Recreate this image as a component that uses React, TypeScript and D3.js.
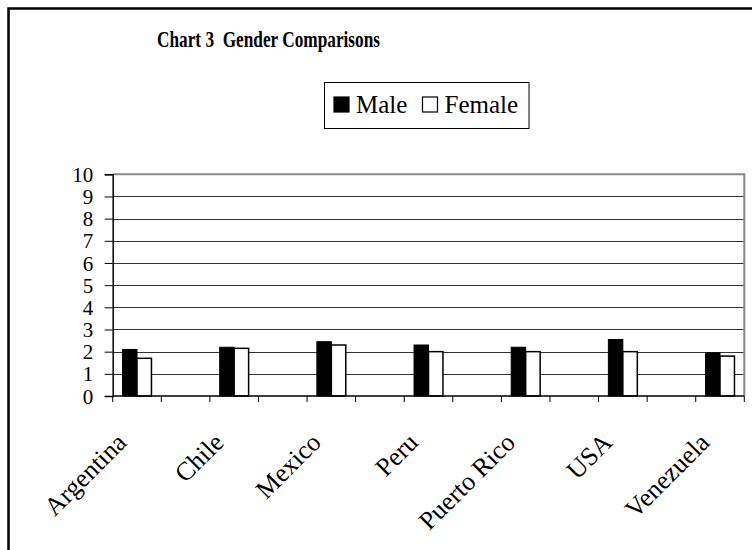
import React, { useEffect, useRef } from 'react';
import * as d3 from 'd3';

// values (mean scores, 0-10 scale)
const countries = ['Argentina', 'Chile', 'Mexico', 'Peru', 'Puerto Rico', 'USA', 'Venezuela'];
const maleValues = [2.1, 2.2, 2.45, 2.3, 2.2, 2.55, 1.95];
const femaleValues = [1.7, 2.15, 2.3, 2.0, 2.0, 2.0, 1.8];
const seriesNames = ['Male', 'Female'];
const yTicks = [0, 1, 2, 3, 4, 5, 6, 7, 8, 9, 10];

const W = 752;
const H = 550;
const plot = { left: 112.7, right: 744.3, top: 174.3, bottom: 396 };
const FONT = "'Liberation Serif', 'Times New Roman', serif";

const App = () => {
  const svgRef = useRef<SVGSVGElement>(null);

  useEffect(() => {
    const svg = d3.select(svgRef.current);
    svg.selectAll('*').remove();

    // the original has an empty category between every country
    const slots: string[] = [];
    countries.forEach((c, i) => {
      slots.push(c);
      if (i < countries.length - 1) slots.push(`gap${i}`);
    });

    const x = d3.scaleBand().domain(slots).range([plot.left, plot.right]).padding(0);
    const xSub = d3
      .scaleBand()
      .domain(seriesNames)
      .range([0, x.bandwidth()])
      .paddingInner(0)
      .paddingOuter(0.68);
    const y = d3.scaleLinear().domain([0, 10]).range([plot.bottom, plot.top]);

    // outer frame (only top and left edges show in the picture)
    svg.append('path')
      .attr('d', `M8.5,${H} V8.5 H${W}`)
      .attr('fill', 'none')
      .attr('stroke', '#000')
      .attr('stroke-width', 2.5);

    // title
    svg.append('text')
      .attr('x', 157)
      .attr('y', 47)
      .attr('textLength', 223)
      .attr('lengthAdjust', 'spacingAndGlyphs')
      .attr('font-family', FONT)
      .attr('font-weight', 'bold')
      .attr('font-size', 24)
      .style('white-space', 'pre')
      .text('Chart 3  Gender Comparisons');

    // legend
    const lg = svg.append('g');
    lg.append('rect')
      .attr('x', 324.5).attr('y', 82.5).attr('width', 204.5).attr('height', 46)
      .attr('fill', '#fff').attr('stroke', '#000').attr('stroke-width', 1);
    const legendItems = [
      { name: seriesNames[0], sx: 334, tx: 356, fill: '#000' },
      { name: seriesNames[1], sx: 422.5, tx: 444.5, fill: '#fff' },
    ];
    legendItems.forEach((d) => {
      lg.append('rect')
        .attr('x', d.sx).attr('y', 97).attr('width', 15).attr('height', 15)
        .attr('fill', d.fill).attr('stroke', '#000').attr('stroke-width', 1.2);
      lg.append('text')
        .attr('x', d.tx).attr('y', 113)
        .attr('font-family', FONT).attr('font-size', 25)
        .text(d.name);
    });

    // gridlines
    svg.append('g')
      .selectAll('line')
      .data(yTicks.filter((t) => t > 0 && t < 10))
      .enter()
      .append('line')
      .attr('x1', plot.left).attr('x2', plot.right)
      .attr('y1', (d) => Math.round(y(d)) + 0.5)
      .attr('y2', (d) => Math.round(y(d)) + 0.5)
      .attr('stroke', '#333')
      .attr('stroke-width', 1);

    // plot area border (top + right in grey)
    svg.append('path')
      .attr('d', `M${plot.left},${plot.top} H${plot.right} V${plot.bottom}`)
      .attr('fill', 'none')
      .attr('stroke', '#888')
      .attr('stroke-width', 2);

    // bars
    const groups = svg.append('g')
      .selectAll('g')
      .data(countries)
      .enter()
      .append('g')
      .attr('transform', (c) => `translate(${x(c)},0)`);

    groups.append('rect')
      .attr('x', () => xSub('Male')!)
      .attr('y', (_, i) => y(maleValues[i]))
      .attr('width', xSub.bandwidth())
      .attr('height', (_, i) => plot.bottom - y(maleValues[i]))
      .attr('fill', '#000')
      .attr('stroke', '#000')
      .attr('stroke-width', 1);

    groups.append('rect')
      .attr('x', () => xSub('Female')!)
      .attr('y', (_, i) => y(femaleValues[i]))
      .attr('width', xSub.bandwidth())
      .attr('height', (_, i) => plot.bottom - y(femaleValues[i]))
      .attr('fill', '#fff')
      .attr('stroke', '#000')
      .attr('stroke-width', 1.5);

    // y axis
    const yAxis = svg.append('g')
      .attr('transform', `translate(${plot.left},0)`)
      .call(d3.axisLeft(y).tickValues(yTicks).tickSize(8).tickPadding(11.5).tickFormat(d3.format('d')));
    yAxis.select('.domain').attr('stroke', '#000').attr('stroke-width', 1.5);
    yAxis.selectAll('.tick line').attr('stroke', '#000');
    yAxis.selectAll('.tick text')
      .attr('font-family', FONT)
      .attr('font-size', 21)
      .attr('fill', '#000')
      .attr('dy', '0.34em');

    // x axis: ticks on every slot boundary
    const boundaries = slots.map((s) => x(s)!).concat([plot.right]);
    const xa = svg.append('g');
    xa.append('line')
      .attr('x1', plot.left).attr('x2', plot.right)
      .attr('y1', plot.bottom).attr('y2', plot.bottom)
      .attr('stroke', '#000').attr('stroke-width', 1.5);
    xa.selectAll('line.tk')
      .data(boundaries)
      .enter()
      .append('line')
      .attr('class', 'tk')
      .attr('x1', (d) => d).attr('x2', (d) => d)
      .attr('y1', plot.bottom).attr('y2', plot.bottom + 6)
      .attr('stroke', '#000').attr('stroke-width', 1);

    xa.selectAll('text')
      .data(countries)
      .enter()
      .append('text')
      .attr('transform', (c) => `translate(${x(c)! + x.bandwidth() / 2 - 9},444) rotate(-45)`)
      .attr('text-anchor', 'end')
      .attr('font-family', FONT)
      .attr('font-size', 26)
      .text((c) => c);
  }, []);

  return (
    <div style={{ position: 'absolute', left: 0, top: 0 }}>
      <svg ref={svgRef} width={W} height={H} style={{ display: 'block', background: '#fff' }} />
    </div>
  );
};

export default App;
